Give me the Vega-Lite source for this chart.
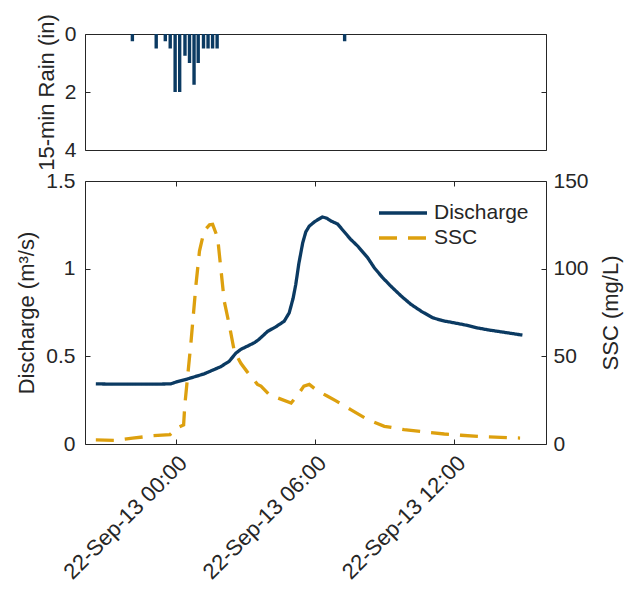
{
  "$schema": "https://vega.github.io/schema/vega-lite/v6.json",
  "padding": {"left": 15, "top": 13, "right": 5, "bottom": 5},
  "bounds": "flush",
  "spacing": 31,
  "config": {
    "font": "Liberation Sans",
    "view": {"stroke": "#262626", "strokeWidth": 1},
    "axis": {
      "labelFont": "Liberation Sans", "titleFont": "Liberation Sans",
      "labelFontSize": 21, "titleFontSize": 22,
      "labelColor": "#262626", "titleColor": "#262626", "titleFontWeight": "normal",
      "tickColor": "#262626", "domain": false, "grid": false,
      "tickSize": -5, "labelPadding": 15, "labelFlush": false, "labelOverlap": false
    }
  },
  "datasets": {
    "rain": [
      {"time": "2013-09-21T21:57:00Z", "rain": 0.25},
      {"time": "2013-09-21T23:00:00Z", "rain": 0.5},
      {"time": "2013-09-21T23:24:00Z", "rain": 0.25},
      {"time": "2013-09-21T23:37:00Z", "rain": 0.5},
      {"time": "2013-09-21T23:50:00Z", "rain": 2.0},
      {"time": "2013-09-22T00:02:00Z", "rain": 2.0},
      {"time": "2013-09-22T00:16:00Z", "rain": 0.75},
      {"time": "2013-09-22T00:28:00Z", "rain": 1.0},
      {"time": "2013-09-22T00:40:00Z", "rain": 1.75},
      {"time": "2013-09-22T00:51:00Z", "rain": 1.0},
      {"time": "2013-09-22T01:05:00Z", "rain": 0.5},
      {"time": "2013-09-22T01:17:00Z", "rain": 0.5},
      {"time": "2013-09-22T01:29:00Z", "rain": 0.5},
      {"time": "2013-09-22T01:41:00Z", "rain": 0.5},
      {"time": "2013-09-22T07:18:00Z", "rain": 0.25}
    ],
    "flow": [
      {"time": "2013-09-21T20:33:00Z", "series": "Discharge", "value": 0.343},
      {"time": "2013-09-21T21:00:00Z", "series": "Discharge", "value": 0.342},
      {"time": "2013-09-21T22:00:00Z", "series": "Discharge", "value": 0.341},
      {"time": "2013-09-21T23:00:00Z", "series": "Discharge", "value": 0.341},
      {"time": "2013-09-21T23:47:00Z", "series": "Discharge", "value": 0.343},
      {"time": "2013-09-22T00:04:00Z", "series": "Discharge", "value": 0.356},
      {"time": "2013-09-22T00:30:00Z", "series": "Discharge", "value": 0.371},
      {"time": "2013-09-22T01:13:00Z", "series": "Discharge", "value": 0.400},
      {"time": "2013-09-22T01:56:00Z", "series": "Discharge", "value": 0.441},
      {"time": "2013-09-22T02:18:00Z", "series": "Discharge", "value": 0.472},
      {"time": "2013-09-22T02:35:00Z", "series": "Discharge", "value": 0.518},
      {"time": "2013-09-22T02:48:00Z", "series": "Discharge", "value": 0.540},
      {"time": "2013-09-22T03:05:00Z", "series": "Discharge", "value": 0.558},
      {"time": "2013-09-22T03:23:00Z", "series": "Discharge", "value": 0.578},
      {"time": "2013-09-22T03:35:00Z", "series": "Discharge", "value": 0.597},
      {"time": "2013-09-22T03:57:00Z", "series": "Discharge", "value": 0.642},
      {"time": "2013-09-22T04:18:00Z", "series": "Discharge", "value": 0.668},
      {"time": "2013-09-22T04:40:00Z", "series": "Discharge", "value": 0.700},
      {"time": "2013-09-22T04:53:00Z", "series": "Discharge", "value": 0.748},
      {"time": "2013-09-22T05:03:00Z", "series": "Discharge", "value": 0.830},
      {"time": "2013-09-22T05:10:00Z", "series": "Discharge", "value": 0.910},
      {"time": "2013-09-22T05:18:00Z", "series": "Discharge", "value": 1.030},
      {"time": "2013-09-22T05:28:00Z", "series": "Discharge", "value": 1.148},
      {"time": "2013-09-22T05:36:00Z", "series": "Discharge", "value": 1.210},
      {"time": "2013-09-22T05:45:00Z", "series": "Discharge", "value": 1.243},
      {"time": "2013-09-22T06:00:00Z", "series": "Discharge", "value": 1.270},
      {"time": "2013-09-22T06:19:00Z", "series": "Discharge", "value": 1.295},
      {"time": "2013-09-22T06:30:00Z", "series": "Discharge", "value": 1.288},
      {"time": "2013-09-22T06:41:00Z", "series": "Discharge", "value": 1.272},
      {"time": "2013-09-22T06:58:00Z", "series": "Discharge", "value": 1.255},
      {"time": "2013-09-22T07:32:00Z", "series": "Discharge", "value": 1.167},
      {"time": "2013-09-22T07:50:00Z", "series": "Discharge", "value": 1.129},
      {"time": "2013-09-22T08:16:00Z", "series": "Discharge", "value": 1.062},
      {"time": "2013-09-22T08:33:00Z", "series": "Discharge", "value": 1.005},
      {"time": "2013-09-22T08:54:00Z", "series": "Discharge", "value": 0.950},
      {"time": "2013-09-22T09:16:00Z", "series": "Discharge", "value": 0.900},
      {"time": "2013-09-22T09:42:00Z", "series": "Discharge", "value": 0.845},
      {"time": "2013-09-22T10:08:00Z", "series": "Discharge", "value": 0.796},
      {"time": "2013-09-22T10:36:00Z", "series": "Discharge", "value": 0.755},
      {"time": "2013-09-22T11:04:00Z", "series": "Discharge", "value": 0.720},
      {"time": "2013-09-22T11:30:00Z", "series": "Discharge", "value": 0.703},
      {"time": "2013-09-22T12:00:00Z", "series": "Discharge", "value": 0.691},
      {"time": "2013-09-22T12:30:00Z", "series": "Discharge", "value": 0.678},
      {"time": "2013-09-22T13:00:00Z", "series": "Discharge", "value": 0.662},
      {"time": "2013-09-22T13:30:00Z", "series": "Discharge", "value": 0.650},
      {"time": "2013-09-22T14:00:00Z", "series": "Discharge", "value": 0.640},
      {"time": "2013-09-22T14:30:00Z", "series": "Discharge", "value": 0.630},
      {"time": "2013-09-22T14:56:00Z", "series": "Discharge", "value": 0.621},
      {"time": "2013-09-21T20:33:00Z", "series": "SSC", "value": 2.3},
      {"time": "2013-09-21T21:25:00Z", "series": "SSC", "value": 2.1},
      {"time": "2013-09-21T22:08:00Z", "series": "SSC", "value": 3.3},
      {"time": "2013-09-21T23:00:00Z", "series": "SSC", "value": 4.7},
      {"time": "2013-09-21T23:45:00Z", "series": "SSC", "value": 5.4},
      {"time": "2013-09-22T00:04:00Z", "series": "SSC", "value": 9.3},
      {"time": "2013-09-22T00:20:00Z", "series": "SSC", "value": 10.9},
      {"time": "2013-09-22T00:23:00Z", "series": "SSC", "value": 22},
      {"time": "2013-09-22T00:30:00Z", "series": "SSC", "value": 37.7},
      {"time": "2013-09-22T00:39:00Z", "series": "SSC", "value": 58},
      {"time": "2013-09-22T00:52:00Z", "series": "SSC", "value": 91},
      {"time": "2013-09-22T01:01:00Z", "series": "SSC", "value": 110},
      {"time": "2013-09-22T01:13:00Z", "series": "SSC", "value": 121.5},
      {"time": "2013-09-22T01:27:00Z", "series": "SSC", "value": 125},
      {"time": "2013-09-22T01:35:00Z", "series": "SSC", "value": 125.3},
      {"time": "2013-09-22T01:48:00Z", "series": "SSC", "value": 117.6},
      {"time": "2013-09-22T01:56:00Z", "series": "SSC", "value": 100.5},
      {"time": "2013-09-22T02:05:00Z", "series": "SSC", "value": 81.5},
      {"time": "2013-09-22T02:18:00Z", "series": "SSC", "value": 68},
      {"time": "2013-09-22T02:31:00Z", "series": "SSC", "value": 53},
      {"time": "2013-09-22T02:48:00Z", "series": "SSC", "value": 46},
      {"time": "2013-09-22T03:05:00Z", "series": "SSC", "value": 41},
      {"time": "2013-09-22T03:31:00Z", "series": "SSC", "value": 34},
      {"time": "2013-09-22T03:40:00Z", "series": "SSC", "value": 33},
      {"time": "2013-09-22T04:00:00Z", "series": "SSC", "value": 28.5},
      {"time": "2013-09-22T04:23:00Z", "series": "SSC", "value": 26.3},
      {"time": "2013-09-22T04:58:00Z", "series": "SSC", "value": 23.4},
      {"time": "2013-09-22T05:15:00Z", "series": "SSC", "value": 28},
      {"time": "2013-09-22T05:31:00Z", "series": "SSC", "value": 33},
      {"time": "2013-09-22T05:45:00Z", "series": "SSC", "value": 34},
      {"time": "2013-09-22T06:05:00Z", "series": "SSC", "value": 30.5},
      {"time": "2013-09-22T06:30:00Z", "series": "SSC", "value": 27.5},
      {"time": "2013-09-22T06:54:00Z", "series": "SSC", "value": 24.6},
      {"time": "2013-09-22T07:32:00Z", "series": "SSC", "value": 19.6},
      {"time": "2013-09-22T08:16:00Z", "series": "SSC", "value": 13.9},
      {"time": "2013-09-22T08:59:00Z", "series": "SSC", "value": 10.1},
      {"time": "2013-09-22T09:50:00Z", "series": "SSC", "value": 8.2},
      {"time": "2013-09-22T10:42:00Z", "series": "SSC", "value": 6.9},
      {"time": "2013-09-22T11:34:00Z", "series": "SSC", "value": 5.7},
      {"time": "2013-09-22T12:17:00Z", "series": "SSC", "value": 5.0},
      {"time": "2013-09-22T13:09:00Z", "series": "SSC", "value": 4.2},
      {"time": "2013-09-22T14:00:00Z", "series": "SSC", "value": 3.8},
      {"time": "2013-09-22T14:50:00Z", "series": "SSC", "value": 3.4}
    ]
  },
  "vconcat": [
    {
      "width": 461,
      "height": 116,
      "data": {"name": "rain"},
      "layer": [
        {
          "mark": {"type": "bar", "size": 3.4, "color": "#0b3a62"},
          "encoding": {
            "x": {"field": "time", "type": "temporal",
              "scale": {"type": "utc", "domain": [
                {"year": 2013, "month": 9, "date": 21, "hours": 20, "minutes": 5, "utc": true},
                {"year": 2013, "month": 9, "date": 22, "hours": 15, "minutes": 57, "utc": true}]},
              "axis": null},
            "y": {"field": "rain", "type": "quantitative",
              "scale": {"domain": [0, 4], "reverse": true},
              "axis": {"values": [0, 2, 4], "format": "d", "labelPadding": 14, "title": "15-min Rain (in)", "titlePadding": 6}}
          }
        },
        {
          "mark": {"type": "bar", "size": 3.4, "opacity": 0},
          "encoding": {
            "x": {"field": "time", "type": "temporal"},
            "y": {"field": "rain", "type": "quantitative",
              "scale": {"domain": [0, 4], "reverse": true},
              "axis": {"orient": "right", "values": [0, 2, 4], "labels": false, "title": null}}
          }
        }
      ],
      "resolve": {"scale": {"y": "independent"}}
    },
    {
      "width": 461,
      "height": 263,
      "data": {"name": "flow"},
      "layer": [
        {
          "transform": [{"filter": "datum.series === 'Discharge'"}],
          "mark": {"type": "line", "strokeWidth": 3.3},
          "encoding": {
            "x": {"field": "time", "type": "temporal",
              "scale": {"type": "utc", "domain": [
                {"year": 2013, "month": 9, "date": 21, "hours": 20, "minutes": 5, "utc": true},
                {"year": 2013, "month": 9, "date": 22, "hours": 15, "minutes": 57, "utc": true}]},
              "axis": {"values": [
                {"year": 2013, "month": 9, "date": 22, "hours": 0, "utc": true},
                {"year": 2013, "month": 9, "date": 22, "hours": 6, "utc": true},
                {"year": 2013, "month": 9, "date": 22, "hours": 12, "utc": true}],
                "format": "%d-%b-%y %H:%M", "labelAngle": -45, "labelAlign": "right", "labelBaseline": "top", "labelPadding": 13, "labelFontSize": 22, "title": null}},
            "y": {"field": "value", "type": "quantitative",
              "scale": {"domain": [0, 1.5]},
              "axis": {"values": [0, 0.5, 1, 1.5], "format": ".1~f", "title": "Discharge (m³/s)", "titlePadding": 7}},
            "color": {"field": "series", "type": "nominal",
              "scale": {"domain": ["Discharge", "SSC"], "range": ["#0b3a62", "#dda00e"]},
              "legend": {"title": null, "orient": "none", "legendX": 292, "legendY": 167, "symbolType": "M-1,0H3.8", "symbolSize": 400, "symbolStrokeWidth": 3.5, "labelFontSize": 21, "labelFont": "Liberation Sans", "labelColor": "#262626", "rowPadding": 3, "labelOffset": 33}},
            "strokeDash": {"field": "series", "type": "nominal",
              "scale": {"domain": ["Discharge", "SSC"], "range": [[1, 0], [18, 11]]},
              "legend": {"title": null, "orient": "none", "legendX": 292, "legendY": 167, "symbolType": "M-1,0H3.8", "symbolSize": 400, "symbolStrokeWidth": 3.5, "labelFontSize": 21, "labelFont": "Liberation Sans", "labelColor": "#262626", "rowPadding": 3, "labelOffset": 33}}
          }
        },
        {
          "transform": [{"filter": "datum.series === 'SSC'"}],
          "mark": {"type": "line", "strokeWidth": 3.3},
          "encoding": {
            "x": {"field": "time", "type": "temporal",
              "axis": {"orient": "top", "values": [
                {"year": 2013, "month": 9, "date": 22, "hours": 0, "utc": true},
                {"year": 2013, "month": 9, "date": 22, "hours": 6, "utc": true},
                {"year": 2013, "month": 9, "date": 22, "hours": 12, "utc": true}],
                "labels": false, "title": null}},
            "y": {"field": "value", "type": "quantitative",
              "scale": {"domain": [0, 150]},
              "axis": {"orient": "right", "values": [0, 50, 100, 150], "format": "d", "labelPadding": 12, "title": "SSC (mg/L)", "titleAngle": 270, "titleBaseline": "top", "titlePadding": 12}},
            "color": {"field": "series", "type": "nominal",
              "scale": {"domain": ["Discharge", "SSC"], "range": ["#0b3a62", "#dda00e"]},
              "legend": {"title": null, "orient": "none", "legendX": 292, "legendY": 167, "symbolType": "M-1,0H3.8", "symbolSize": 400, "symbolStrokeWidth": 3.5, "labelFontSize": 21, "labelFont": "Liberation Sans", "labelColor": "#262626", "rowPadding": 3, "labelOffset": 33}},
            "strokeDash": {"field": "series", "type": "nominal",
              "scale": {"domain": ["Discharge", "SSC"], "range": [[1, 0], [18, 11]]},
              "legend": {"title": null, "orient": "none", "legendX": 292, "legendY": 167, "symbolType": "M-1,0H3.8", "symbolSize": 400, "symbolStrokeWidth": 3.5, "labelFontSize": 21, "labelFont": "Liberation Sans", "labelColor": "#262626", "rowPadding": 3, "labelOffset": 33}}
          }
        }
      ],
      "resolve": {"scale": {"y": "independent"}, "axis": {"x": "independent"}}
    }
  ]
}
